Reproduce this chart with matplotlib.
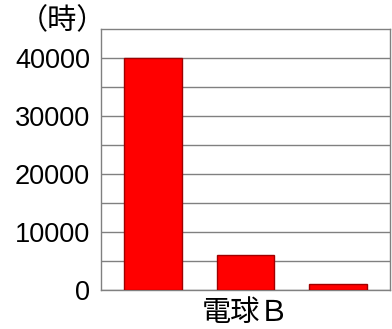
import matplotlib
matplotlib.use("Agg")
import matplotlib.pyplot as plt

plt.rcParams['font.family'] = ['Noto Sans CJK JP', 'DejaVu Sans']

# lifetime in hours for each bulb
labels = ["", "電球Ｂ", ""]
hours = [40000, 6000, 1000]
yticks = [0, 10000, 20000, 30000, 40000]

fig = plt.figure(figsize=(3.92, 3.29), dpi=100)
ax = fig.add_axes([101 / 392, 1 - 290 / 329, 289 / 392, 261 / 329])

x = range(len(hours))
ax.bar(x, hours, width=0.62, color="#ff0000", edgecolor="#a00000", linewidth=1.0, zorder=3)

ax.set_xlim(-0.56, len(hours) - 0.44)
ax.set_ylim(0, 45000)
ax.set_yticks(yticks)
ax.set_yticks(range(5000, 45000, 10000), minor=True)
ax.yaxis.grid(True, which="both", color="#808080", linewidth=1.0, zorder=0)
ax.tick_params(axis="y", which="both", length=0, pad=8)
ax.set_yticklabels([str(v) for v in yticks], fontsize=19.5,
                   family=["Liberation Sans", "DejaVu Sans"])

ax.set_xticks(list(x))
ax.set_xticklabels(labels, fontsize=21)
ax.tick_params(axis="x", length=0, pad=6)

for s in ax.spines.values():
    s.set_color("#808080")
    s.set_linewidth(1.0)

fig.text(62 / 392, 1 - 21 / 329, "（時）", fontsize=21, ha="center", va="center")

fig.savefig("out.png", dpi=100)
